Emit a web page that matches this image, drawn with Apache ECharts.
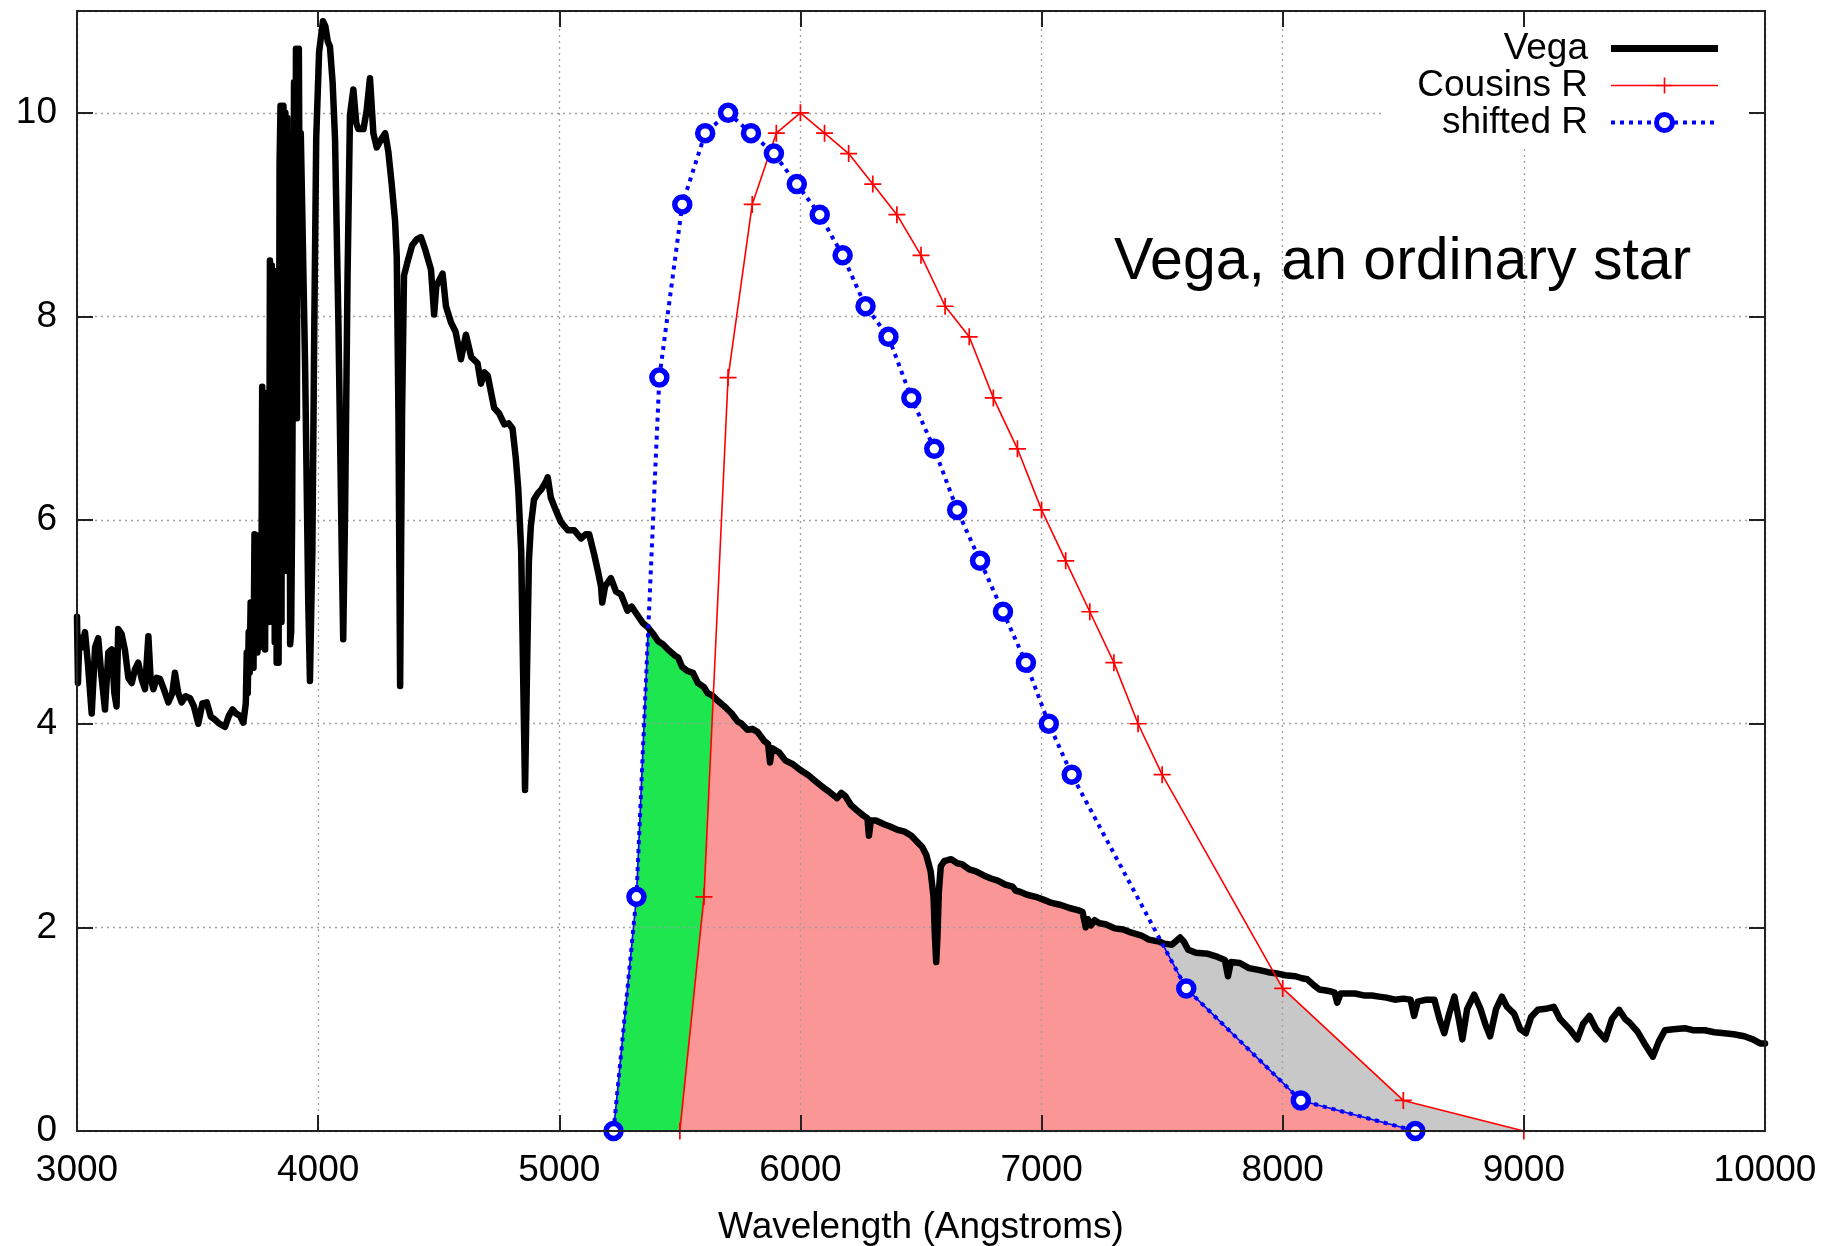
<!DOCTYPE html>
<html>
<head>
<meta charset="utf-8">
<script src="https://cdn.jsdelivr.net/npm/echarts/dist/echarts.min.js"></script>
<style>
html,body{margin:0;padding:0;background:#fff;}
#chart{width:1826px;height:1246px;}
</style>
</head>
<body>
<div id="chart"></div>
<script>
// ---------------- DATA ----------------
// Vega spectrum: [wavelength (Angstrom), flux]
const vegaSpectrum = [
[3000,5.05],[3004,4.40],[3010,4.85],[3020,4.75],[3033,4.90],[3045,4.60],[3061,4.10],[3075,4.75],[3088,4.84],[3100,4.50],
[3116,4.14],[3130,4.70],[3144,4.73],[3155,4.30],[3164,4.17],[3171,4.93],[3185,4.88],[3199,4.72],[3213,4.45],[3227,4.40],
[3240,4.53],[3254,4.60],[3268,4.44],[3282,4.34],[3296,4.86],[3305,4.45],[3317,4.34],[3330,4.45],[3344,4.44],[3360,4.34],
[3379,4.21],[3395,4.30],[3406,4.50],[3420,4.30],[3434,4.21],[3450,4.27],[3469,4.25],[3485,4.17],[3503,4.00],[3520,4.20],
[3538,4.21],[3555,4.07],[3572,4.04],[3590,4.00],[3614,3.97],[3630,4.08],[3645,4.14],[3660,4.10],[3675,4.08],[3690,4.01],
[3700,4.20],[3704,4.70],[3708,4.30],[3712,4.90],[3716,4.50],[3720,5.19],[3724,4.60],[3728,5.10],[3732,4.55],[3736,5.86],
[3740,4.80],[3744,5.85],[3748,4.70],[3752,5.80],[3756,4.75],[3760,5.70],[3764,4.80],[3768,7.31],[3772,5.00],[3776,7.25],
[3780,4.73],[3784,7.20],[3788,5.20],[3792,7.00],[3796,5.00],[3800,8.55],[3804,5.50],[3808,8.50],[3812,5.00],[3816,8.45],
[3820,4.80],[3824,8.30],[3828,4.60],[3832,8.00],[3836,4.60],[3840,9.50],[3844,10.07],[3848,5.00],[3852,10.00],[3856,10.07],
[3860,5.50],[3864,10.00],[3868,6.00],[3872,9.95],[3876,5.50],[3880,9.50],[3884,4.78],[3888,4.90],[3892,6.00],[3896,8.00],
[3900,10.30],[3904,7.00],[3908,10.63],[3912,7.00],[3916,10.50],[3920,10.63],[3924,8.50],[3928,9.80],[3932,9.30],[3946,7.50],
[3959,5.20],[3966,4.42],[3976,5.70],[3984,7.90],[3992,9.75],[4004,10.60],[4020,10.90],
[4030,10.85],[4040,10.70],[4049,10.65],[4060,10.30],[4070,9.75],[4084,7.94],[4098,5.68],[4104,4.83],[4112,6.14],[4122,8.40],
[4132,9.98],[4146,10.23],[4158,9.90],[4167,9.84],[4188,9.84],[4201,10.02],[4215,10.34],[4229,9.80],[4243,9.66],[4264,9.75],
[4278,9.80],[4291,9.62],[4305,9.30],[4319,8.94],[4326,8.58],[4333,7.04],[4340,4.37],[4348,7.04],[4356,8.40],[4371,8.54],
[4390,8.70],[4410,8.76],[4426,8.78],[4445,8.65],[4468,8.46],[4481,8.02],[4490,8.30],[4516,8.42],[4530,8.10],[4551,7.94],
[4570,7.85],[4592,7.58],[4613,7.82],[4635,7.60],[4661,7.54],[4675,7.34],[4690,7.45],[4703,7.42],[4730,7.10],[4750,7.05],
[4772,6.94],[4790,6.95],[4806,6.90],[4820,6.60],[4830,6.30],[4842,5.70],[4850,4.50],[4858,3.35],[4866,4.50],[4874,5.60],
[4882,5.94],[4895,6.20],[4910,6.26],[4925,6.30],[4945,6.38],[4952,6.42],[4965,6.22],[4985,6.10],[5007,5.98],[5035,5.90],
[5062,5.90],[5090,5.82],[5110,5.86],[5124,5.86],[5145,5.66],[5160,5.50],[5173,5.35],[5178,5.19],[5190,5.35],[5214,5.43],
[5235,5.30],[5256,5.27],[5283,5.11],[5300,5.15],[5320,5.08],[5346,4.99],[5366,4.95],[5390,4.88],[5410,4.81],[5430,4.78],
[5455,4.72],[5479,4.67],[5493,4.65],[5509,4.56],[5530,4.52],[5554,4.50],[5575,4.40],[5600,4.36],[5615,4.30],[5633,4.28],
[5660,4.22],[5690,4.16],[5715,4.10],[5740,4.02],[5756,4.00],[5780,3.94],[5800,3.95],[5822,3.92],[5850,3.83],[5866,3.80],
[5874,3.62],[5882,3.76],[5911,3.72],[5937,3.64],[5970,3.60],[6003,3.54],[6030,3.50],[6060,3.44],[6086,3.39],[6120,3.33],
[6141,3.29],[6152,3.27],[6170,3.32],[6186,3.29],[6210,3.20],[6234,3.15],[6260,3.10],[6278,3.07],[6284,2.90],[6292,3.05],
[6313,3.05],[6349,3.01],[6372,2.99],[6400,2.96],[6432,2.94],[6460,2.90],[6484,2.84],[6505,2.79],[6522,2.71],[6540,2.55],
[6552,2.30],[6558,1.90],[6563,1.66],[6568,1.90],[6574,2.35],[6582,2.60],[6596,2.65],[6625,2.67],[6650,2.63],[6670,2.62],
[6700,2.57],[6728,2.55],[6760,2.51],[6790,2.48],[6818,2.46],[6850,2.42],[6880,2.40],[6893,2.36],[6910,2.35],[6940,2.32],
[6975,2.30],[7010,2.27],[7042,2.24],[7080,2.22],[7116,2.19],[7150,2.17],[7170,2.15],[7183,2.00],[7192,2.08],[7205,2.02],
[7220,2.07],[7240,2.04],[7265,2.03],[7305,1.99],[7339,1.98],[7370,1.95],[7414,1.92],[7445,1.88],[7488,1.86],[7509,1.84],
[7540,1.83],[7575,1.90],[7590,1.86],[7608,1.78],[7640,1.75],[7690,1.74],[7730,1.71],[7760,1.68],[7773,1.52],[7785,1.66],
[7822,1.65],[7860,1.60],[7904,1.58],[7940,1.56],[7970,1.55],[8010,1.53],[8053,1.52],[8080,1.50],[8102,1.49],[8130,1.43],
[8152,1.39],[8180,1.38],[8201,1.37],[8215,1.36],[8226,1.26],[8240,1.35],[8270,1.35],[8300,1.35],[8340,1.33],[8370,1.33],
[8399,1.32],[8430,1.31],[8465,1.29],[8500,1.30],[8530,1.29],[8545,1.13],[8560,1.27],[8596,1.29],[8629,1.29],[8650,1.10],
[8670,0.96],[8690,1.15],[8712,1.32],[8730,1.10],[8745,0.90],[8765,1.20],[8794,1.34],[8820,1.20],[8840,1.05],[8860,0.93],
[8885,1.20],[8909,1.32],[8930,1.22],[8960,1.15],[8985,1.00],[9008,0.96],[9030,1.12],[9058,1.19],[9090,1.20],[9124,1.22],
[9150,1.10],[9190,1.00],[9222,0.90],[9245,1.05],[9272,1.13],[9300,1.00],[9338,0.90],[9365,1.10],[9395,1.19],[9420,1.10],
[9440,1.06],[9470,0.98],[9500,0.86],[9535,0.73],[9560,0.88],[9585,0.99],[9620,1.00],[9667,1.01],[9700,0.99],[9750,0.99],
[9790,0.97],[9832,0.96],[9870,0.95],[9914,0.93],[9950,0.90],[9980,0.86],[10000,0.86]
];

// Cousins R filter (red, "+")
const cousinsWavelength = [5500,5600,5700,5800,5900,6000,6100,6200,6300,6400,6500,6600,6700,6800,6900,7000,7100,7200,7300,7400,7500,8000,8500,9000];
const cousinsResponse   = [0,2.3,7.4,9.1,9.8,10,9.8,9.6,9.3,9.0,8.6,8.1,7.8,7.2,6.7,6.1,5.6,5.1,4.6,4.0,3.5,1.4,0.3,0];

// shifted R filter (blue, circles)
const shiftedWavelength = [5225,5320,5415,5510,5605,5700,5795,5890,5985,6080,6175,6270,6365,6460,6555,6650,6745,6840,6935,7030,7125,7600,8075,8550];
const shiftedResponse   = [0,2.3,7.4,9.1,9.8,10,9.8,9.6,9.3,9.0,8.6,8.1,7.8,7.2,6.7,6.1,5.6,5.1,4.6,4.0,3.5,1.4,0.3,0];

// axis ticks
const xTicks = [3000,4000,5000,6000,7000,8000,9000,10000];
const yTicks = [0,2,4,6,8,10];

const titleText = 'Vega, an ordinary star';
const xAxisName = 'Wavelength (Angstroms)';

// ---------------- helpers ----------------
function lerp(c, x) {
  const xs = c.xs, ys = c.ys, n = xs.length;
  if (x <= xs[0]) return ys[0];
  if (x >= xs[n - 1]) return ys[n - 1];
  let i = 1;
  while (xs[i] < x) i++;
  const t = (x - xs[i - 1]) / (xs[i] - xs[i - 1]);
  return ys[i - 1] + t * (ys[i] - ys[i - 1]);
}
// lower envelope of several piecewise-linear curves (exact, with crossings)
function lowerEnvelope(curves, x0, x1) {
  let bp = [x0, x1];
  curves.forEach(c => c.xs.forEach(x => { if (x > x0 && x < x1) bp.push(x); }));
  bp = Array.from(new Set(bp)).sort((a, b) => a - b);
  const pts = [];
  for (let k = 0; k < bp.length; k++) {
    const xa = bp[k];
    pts.push(xa);
    if (k < bp.length - 1) {
      const xb = bp[k + 1];
      const va = curves.map(c => lerp(c, xa));
      const vb = curves.map(c => lerp(c, xb));
      for (let i = 0; i < curves.length; i++) {
        for (let j = i + 1; j < curves.length; j++) {
          const da = va[i] - va[j], db = vb[i] - vb[j];
          if (da * db < 0) pts.push(xa + (da / (da - db)) * (xb - xa));
        }
      }
    }
  }
  pts.sort((a, b) => a - b);
  return pts.map(x => [x, Math.min.apply(null, curves.map(c => lerp(c, x)))]);
}

const vegaC = { xs: vegaSpectrum.map(p => p[0]), ys: vegaSpectrum.map(p => p[1]) };
const redC = { xs: cousinsWavelength, ys: cousinsResponse };
const blueC = { xs: shiftedWavelength, ys: shiftedResponse };

const greenFill = lowerEnvelope([vegaC, blueC], shiftedWavelength[0], shiftedWavelength[shiftedWavelength.length - 1]);
const grayFill = lowerEnvelope([vegaC, redC], cousinsWavelength[0], cousinsWavelength[cousinsWavelength.length - 1]);
const pinkFill = lowerEnvelope([vegaC, redC, blueC],
  Math.max(cousinsWavelength[0], shiftedWavelength[0]),
  Math.min(cousinsWavelength[cousinsWavelength.length - 1], shiftedWavelength[shiftedWavelength.length - 1]));

const cousinsData = cousinsWavelength.map((x, i) => [x, cousinsResponse[i]]);
const shiftedData = shiftedWavelength.map((x, i) => [x, shiftedResponse[i]]);

// ---------------- styling ----------------
const FONT = '"Liberation Sans", Arial, Helvetica, sans-serif';
const FS = 37;
const FRAME = '#222';
const PLUS = 'path://M9,0H11V9H20V11H11V20H9V11H0V9H9Z';

function fillSeries(name, data, color) {
  return {
    name: name, type: 'line', data: data, z: 2, symbol: 'none', silent: true,
    lineStyle: { width: 0, opacity: 0 },
    areaStyle: { color: color, opacity: 1, origin: 'start' }
  };
}

function frameX(pos, labels) {
  return {
    type: 'value', position: pos, min: xTicks[0], max: xTicks[xTicks.length - 1], interval: xTicks[1] - xTicks[0],
    z: 10,
    axisLine: { show: true, onZero: false, lineStyle: { color: FRAME, width: 2 } },
    axisTick: { show: true, inside: true, length: 16, lineStyle: { color: FRAME, width: 2 } },
    axisLabel: { show: labels, margin: 21, color: '#000', fontSize: FS, fontFamily: FONT, lineHeight: FS,
      formatter: v => String(v) },
    splitLine: { show: false }
  };
}
function frameY(pos, labels) {
  return {
    type: 'value', position: pos, min: 0, max: 11, interval: yTicks[1] - yTicks[0],
    z: 10,
    axisLine: { show: true, onZero: false, lineStyle: { color: FRAME, width: 2 } },
    axisTick: { show: true, inside: true, length: 16, lineStyle: { color: FRAME, width: 2 } },
    axisLabel: { show: labels, margin: 20, color: '#000', fontSize: FS, fontFamily: FONT, showMaxLabel: false,
      formatter: v => String(v) },
    splitLine: { show: false }
  };
}
const gridLineStyle = { color: '#a0a0a0', width: 1.3, type: [2, 4] };

const chart = echarts.init(document.getElementById('chart'), null, { renderer: 'canvas' });
chart.setOption({
  animation: false,
  backgroundColor: '#fff',
  grid: { left: 77, right: 61, top: 11, bottom: 115, containLabel: false, outerBoundsMode: 'none' },
  title: {
    text: titleText, left: 1114, top: 233, padding: 0, z: 7,
    textStyle: { fontSize: 59, fontWeight: 'normal', color: '#000', fontFamily: FONT, lineHeight: 59 }
  },
  legend: {
    orient: 'vertical', align: 'right', right: 76, top: 20,
    padding: [10, 30, 5, 35], itemGap: 0, itemWidth: 107, itemHeight: 20,
    backgroundColor: '#fff', z: 7, selectedMode: false,
    textStyle: { fontSize: FS, fontFamily: FONT, color: '#000', lineHeight: 37, padding: [0, 18, 0, 0] },
    data: [
      { name: 'Vega', icon: 'path://M0,0H107V7H0Z', itemStyle: { color: '#000', borderWidth: 0 } },
      { name: 'Cousins R', lineStyle: { color: '#ff0000', width: 1.6 }, itemStyle: { color: '#ff0000', borderWidth: 0 } },
      { name: 'shifted R', lineStyle: { color: '#0000ff', width: 4, type: [4, 5] }, itemStyle: { color: '#fff', borderColor: '#0000ff', borderWidth: 5 } }
    ]
  },
  xAxis: [
    Object.assign(frameX('bottom', true), {
      name: xAxisName, nameLocation: 'middle', nameGap: 78,
      nameTextStyle: { fontSize: FS, color: '#000', fontFamily: FONT, lineHeight: FS }
    }),
    frameX('top', false),
    {
      type: 'value', position: 'bottom', min: xTicks[0], max: xTicks[xTicks.length - 1], interval: xTicks[1] - xTicks[0], z: 3,
      axisLine: { show: false }, axisTick: { show: false }, axisLabel: { show: false },
      splitLine: { show: true, lineStyle: gridLineStyle }
    }
  ],
  yAxis: [
    frameY('left', true),
    frameY('right', false),
    {
      type: 'value', position: 'left', min: 0, max: 11, interval: yTicks[1] - yTicks[0], z: 3,
      axisLine: { show: false }, axisTick: { show: false }, axisLabel: { show: false },
      splitLine: { show: true, lineStyle: gridLineStyle }
    }
  ],
  series: [
    fillSeries('fillGreen', greenFill, '#1ee64f'),
    fillSeries('fillGray', grayFill, '#c8c8c8'),
    fillSeries('fillPink', pinkFill, '#fa9696'),
    {
      name: 'shiftedEdge', type: 'line', data: greenFill, z: 4, symbol: 'none', silent: true,
      lineStyle: { color: '#0000ff', width: 1.6 }
    },
    {
      name: 'Vega', type: 'line', data: vegaSpectrum, z: 5, symbol: 'none',
      lineStyle: { color: '#000', width: 6.5, join: 'round', cap: 'round' },
      itemStyle: { color: '#000' }
    },
    {
      name: 'Cousins R', type: 'line', data: cousinsData, z: 6,
      symbol: PLUS, symbolSize: 17, showSymbol: true,
      lineStyle: { color: '#ff0000', width: 1.6 },
      itemStyle: { color: '#ff0000', borderWidth: 0 }
    },
    {
      name: 'shifted R', type: 'line', data: shiftedData, z: 6,
      symbol: 'circle', symbolSize: 15, showSymbol: true,
      lineStyle: { color: '#0000ff', width: 4, type: [4, 5] },
      itemStyle: { color: '#fff', borderColor: '#0000ff', borderWidth: 5.5 }
    }
  ]
});
</script>
</body>
</html>
